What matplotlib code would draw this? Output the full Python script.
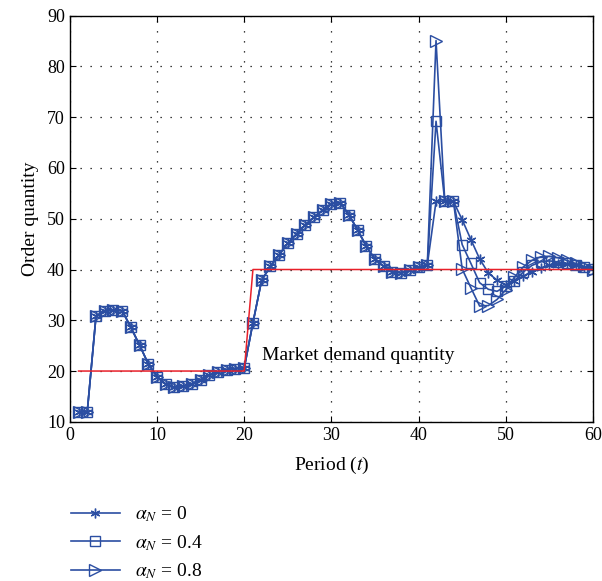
import numpy as np
import matplotlib
matplotlib.use("Agg")
import matplotlib.pyplot as plt
from matplotlib.lines import Line2D

plt.rcParams['font.family'] = ['Liberation Serif', 'DejaVu Serif']
plt.rcParams['mathtext.fontset'] = 'stix'

periods = list(range(1, 61))

common = [12, 12, 30.8, 31.9, 32.0, 31.9, 28.6, 25.1, 21.4, 18.9,
          17.4, 16.8, 17.0, 17.5, 18.3, 19.2, 19.8, 20.3, 20.5, 20.6,
          29.5, 37.9, 40.6, 42.9, 45.2, 47.0, 48.8, 50.3, 51.7, 53.0,
          53.2, 50.8, 47.8, 44.6, 42.0, 40.6, 39.5, 39.4, 39.9, 40.4,
          40.9]

alpha0_tail = [53.4, 53.5, 53.4, 49.8, 45.9, 42.1, 39.3, 37.9, 37.0,
               37.8, 38.7, 39.6, 40.3, 40.8, 41.0, 41.0, 40.8, 40.5, 40.2]
alpha04_tail = [69.2, 53.5, 53.4, 44.9, 41.2, 37.4, 36.1, 35.7, 36.7,
                37.8, 39.5, 40.8, 41.5, 41.7, 41.5, 41.2, 40.8, 40.4, 40.1]
alpha08_tail = [85.1, 53.5, 53.4, 40.1, 36.4, 32.8, 32.9, 34.1, 36.0,
                38.5, 40.5, 41.8, 42.5, 42.6, 42.3, 41.8, 41.2, 40.6, 40.0]

series_labels = [r'$\alpha_N$ = 0', r'$\alpha_N$ = 0.4', r'$\alpha_N$ = 0.8']
series_values = [common + alpha0_tail, common + alpha04_tail, common + alpha08_tail]

demand_t = [1, 20, 21, 60]
demand_q = [20, 20, 40, 40]

annotation = "Market demand quantity"

blue = '#2b4ea2'
red = '#e8202a'

fig = plt.figure(figsize=(6.02, 5.81), dpi=100)
ax = fig.add_axes([0.116, 0.274, 0.869, 0.699])

markers = [(6, 2, 0), 's', '>']
sizes = [7, 7, 9]
handles = []
for vals, lab, mk, ms in zip(series_values, series_labels, markers, sizes):
    h, = ax.plot(periods, vals, color=blue, lw=1.2, marker=mk, ms=ms,
                 mfc='none', mec=blue, mew=1.0, label=lab)
    handles.append(h)

ax.plot(demand_t, demand_q, color=red, lw=1.1)
ax.text(22, 23, annotation, fontsize=14, va='center', ha='left')

ax.set_xlim(0, 60)
ax.set_ylim(10, 90)
ax.set_xticks(range(0, 61, 10))
ax.set_yticks(range(10, 91, 10))
ax.tick_params(direction='in', top=True, right=True, labelsize=13, length=4)
ax.grid(True, color='black', linestyle=(0, (1, 7)), linewidth=0.9)
for s in ax.spines.values():
    s.set_linewidth(1.0)

ax.set_xlabel('Period ($t$)', fontsize=14, labelpad=8)
ax.set_ylabel('Order quantity', fontsize=14, labelpad=6)

fig.legend(handles=handles, loc='upper left', bbox_to_anchor=(0.105, 0.145),
           frameon=False, fontsize=14, handlelength=2.5, labelspacing=0.45,
           handletextpad=0.8, borderaxespad=0)

fig.savefig('out.png', dpi=100)
